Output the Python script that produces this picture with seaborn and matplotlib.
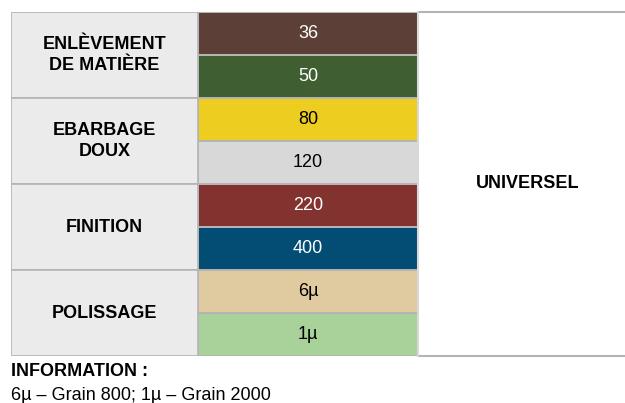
import numpy as np
import matplotlib
matplotlib.use('Agg')
import matplotlib.pyplot as plt
from matplotlib.colors import ListedColormap
from matplotlib.patches import Rectangle
import seaborn as sns

# data
groups = ['ENLÈVEMENT\nDE MATIÈRE', 'EBARBAGE\nDOUX', 'FINITION', 'POLISSAGE']
grits = ['36', '50', '80', '120', '220', '400', '6µ', '1µ']
grit_colors = ['#5C4037', '#3F5F33', '#EDCD1F', '#D8D8D8',
               '#823330', '#034C74', '#E0CBA0', '#A9D29A']
text_colors = ['white', 'white', 'black', 'black', 'white', 'white', 'black', 'black']
usage = 'UNIVERSEL'
info_title = 'INFORMATION :'
info_text = '6µ – Grain 800; 1µ – Grain 2000'

sns.set_style('white')
plt.rcParams['font.family'] = ['Liberation Sans', 'DejaVu Sans']
plt.rcParams['text.color'] = 'black'

W, H = 625, 403
fig = plt.figure(figsize=(W / 100, H / 100), dpi=100)
line_col = '#B4B4B4'
top, bot = 12, 356


def px_axes(x0, x1):
    return fig.add_axes([x0 / W, (H - bot) / H, (x1 - x0) / W, (bot - top) / H])


# left column: merged group cells
ax_l = px_axes(11, 198)
n = len(grits)
per = n // len(groups)
for i, g in enumerate(groups):
    ax_l.add_patch(Rectangle((0, i * per), 1, per, facecolor='#EBEBEB',
                             edgecolor=line_col, linewidth=1.2))
    ax_l.text(0.5, i * per + per / 2, g, ha='center', va='center', fontsize=13,
              fontweight='bold', linespacing=1.35, color='black')
ax_l.set_xlim(0, 1)
ax_l.set_ylim(n, 0)
ax_l.axis('off')

# grit column as heatmap
ax_g = px_axes(198, 418)
vals = np.arange(n).reshape(n, 1)
sns.heatmap(vals, ax=ax_g, cmap=ListedColormap(grit_colors), cbar=False,
            annot=np.array(grits).reshape(n, 1), fmt='',
            annot_kws={'fontsize': 13}, linewidths=1.2, linecolor=line_col,
            xticklabels=False, yticklabels=False)
for t, c in zip(ax_g.texts, text_colors):
    t.set_color(c)
ax_g.tick_params(left=False, bottom=False)

# right column: universal
ax_r = px_axes(418, 625)
ax_r.set_xlim(0, 1)
ax_r.set_ylim(1, 0)
ax_r.axis('off')
ax_r.plot([0, 1], [0.001, 0.001], color=line_col, lw=1.5, clip_on=False)
ax_r.plot([0, 1], [0.999, 0.999], color=line_col, lw=1.5, clip_on=False)
ax_r.plot([0.002, 0.002], [0, 1], color='#D8D8D8', lw=1.5, clip_on=False)
ax_r.text(0.53, 0.5, usage, ha='center', va='center', fontsize=13,
          fontweight='bold', color='black')

fig.text(11 / W, 1 - 371 / H, info_title, ha='left', va='center', fontsize=13,
         fontweight='bold', color='black')
fig.text(11 / W, 1 - 395 / H, info_text, ha='left', va='center', fontsize=13,
         color='black')

fig.savefig('out.png', dpi=100)
